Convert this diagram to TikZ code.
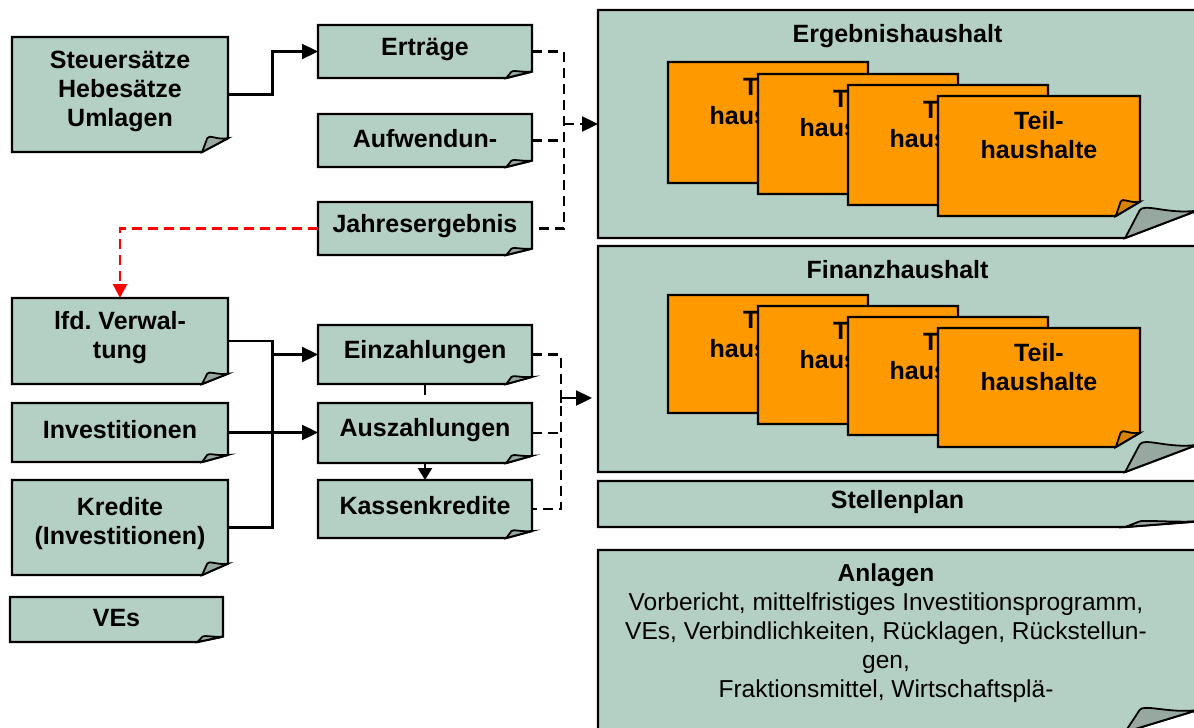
\documentclass[tikz,border=0pt]{standalone}
\usepackage{fontspec}
\setmainfont{Liberation Sans}
\usetikzlibrary{arrows.meta,calc}
\definecolor{boxgreen}{RGB}{180,207,196}
\definecolor{foldgreen}{RGB}{150,168,160}
\definecolor{boxorange}{RGB}{255,153,0}
\definecolor{foldorange}{RGB}{215,130,0}
\tikzset{
 boxline/.style={draw=black, line width=2.2pt, line join=miter},
 boxnode/.style={rectangle, draw=none, fill=none, inner sep=0pt, outer sep=0pt},
 lbl/.style={font=\fontsize{25}{29}\selectfont\bfseries, align=center, inner sep=0pt},
 conn/.style={line width=2.3pt, draw=black},
 tip/.style={-{Triangle[length=16pt,width=15pt]}},
 arr/.style={conn, tip},
 dashconn/.style={conn, dash pattern=on 10pt off 6pt},
 reddash/.style={line width=2.3pt, draw=red, dash pattern=on 10pt off 6pt, -{Triangle[length=14pt,width=14pt]}},
}
\newcommand\notebox[7]{%
 \pgfmathsetmacro\fw{0.12*(#4-#2)}%
 \pgfmathsetmacro\fh{0.12*(#5-#3)}%
 \draw[boxline, fill=#6] (#2,#3) -- (#4,#3) -- (#4,#5-\fh) -- (#4-\fw,#5) -- (#2,#5) -- cycle;
 \draw[boxline, line width=1.8pt, fill=#7] (#4-\fw,#5) -- (#4-0.8*\fw,#5-\fh) .. controls (#4-0.75*\fw,#5-1.3*\fh) and (#4-0.4*\fw,#5-0.85*\fh) .. (#4,#5-\fh) -- cycle;
 \node[boxnode, minimum width={#4-#2}, minimum height={#5-#3}] (#1) at ({(#2+#4)/2},{(#3+#5)/2}) {};
}
\frenchspacing
\begin{document}
\begin{tikzpicture}[x=1pt,y=-1pt]
\useasboundingbox (0,0) rectangle (1194,728);
\fill[white] (0,0) rectangle (1194,728);
\clip (0,0) rectangle (1194,728);

% left column
\notebox{steuer}{12}{37}{228}{152}{boxgreen}{foldgreen}
\node[lbl, yshift=3pt] (steuerT) at (steuer.center) {Steuersätze\\Hebesätze\\Umlagen};
\notebox{lfd}{12}{298}{228}{384}{boxgreen}{foldgreen}
\node[lbl, yshift=3pt] (lfdT) at (lfd.center) {lfd. Verwal-\\tung};
\notebox{invest}{12}{403}{228}{462}{boxgreen}{foldgreen}
\node[lbl, yshift=3pt] (investT) at (invest.center) {Investitionen};
\notebox{kredite}{12}{480}{228}{575}{boxgreen}{foldgreen}
\node[lbl, yshift=4pt] (krediteT) at (kredite.center) {Kredite\\(Investitionen)};
\notebox{ves}{10}{597}{223}{642}{boxgreen}{foldgreen}
\node[lbl, yshift=1pt] (vesT) at (ves.center) {VEs};

% middle column
\notebox{ertraege}{318}{25}{532}{78}{boxgreen}{foldgreen}
\node[lbl, yshift=2pt] (ertraegeT) at (ertraege.center) {Erträge};
\notebox{aufw}{318}{114}{532}{167}{boxgreen}{foldgreen}
\node[lbl, yshift=2pt] (aufwT) at (aufw.center) {Aufwendun-};
\notebox{jahres}{318}{202}{532}{255}{boxgreen}{foldgreen}
\node[lbl, yshift=2pt] (jahresT) at (jahres.center) {Jahresergebnis};
\notebox{einz}{318}{325}{532}{384}{boxgreen}{foldgreen}
\node[lbl, yshift=2pt] (einzT) at (einz.center) {Einzahlungen};
\notebox{kassen}{318}{480}{532}{538}{boxgreen}{foldgreen}
\node[lbl, yshift=3pt] (kassenT) at (kassen.center) {Kassenkredite};
\draw[conn, dash pattern=on 11pt off 8pt on 300pt off 0pt, -{Triangle[length=12pt,width=14pt]}] (einz.south) -- (kassen.north);
\notebox{ausz}{318}{403}{532}{463}{boxgreen}{foldgreen}
\node[lbl, yshift=3pt] (auszT) at (ausz.center) {Auszahlungen};

% right column
\notebox{ergebnis}{598}{10}{1197}{238}{boxgreen}{foldgreen}
\node[lbl, anchor=north] (ergebnisT) at (897.5,24) {Ergebnishaushalt};
\notebox{eo1}{668}{62}{868}{183}{boxorange}{foldorange}
\node[lbl, anchor=north] (eo1T) at ($(eo1.north)+(0,15)$) {Teil-\\haushalte};
\notebox{eo2}{758}{74}{958}{194}{boxorange}{foldorange}
\node[lbl, anchor=north] (eo2T) at ($(eo2.north)+(0,15)$) {Teil-\\haushalte};
\notebox{eo3}{848}{85}{1048}{205}{boxorange}{foldorange}
\node[lbl, anchor=north] (eo3T) at ($(eo3.north)+(0,15)$) {Teil-\\haushalte};
\notebox{eo4}{938}{96}{1140}{216}{boxorange}{foldorange}
\node[lbl, anchor=north] (eo4T) at ($(eo4.north)+(0,15)$) {Teil-\\haushalte};

\notebox{finanz}{598}{246}{1197}{472}{boxgreen}{foldgreen}
\node[lbl, anchor=north] (finanzT) at (897.5,260) {Finanzhaushalt};
\notebox{fo1}{668}{295}{868}{413}{boxorange}{foldorange}
\node[lbl, anchor=north] (fo1T) at ($(fo1.north)+(0,15)$) {Teil-\\haushalte};
\notebox{fo2}{758}{306}{958}{424}{boxorange}{foldorange}
\node[lbl, anchor=north] (fo2T) at ($(fo2.north)+(0,15)$) {Teil-\\haushalte};
\notebox{fo3}{848}{317}{1048}{435}{boxorange}{foldorange}
\node[lbl, anchor=north] (fo3T) at ($(fo3.north)+(0,15)$) {Teil-\\haushalte};
\notebox{fo4}{938}{328}{1140}{447}{boxorange}{foldorange}
\node[lbl, anchor=north] (fo4T) at ($(fo4.north)+(0,15)$) {Teil-\\haushalte};

\notebox{stellen}{598}{481}{1197}{527}{boxgreen}{foldgreen}
\node[lbl, yshift=2pt] (stellenT) at (897.5,504) {Stellenplan};

\notebox{anlagen}{598}{550}{1197}{732}{boxgreen}{foldgreen}
\node[anchor=north, align=center, inner sep=0pt, font=\fontsize{24.5}{29}\selectfont] (anlagenT) at (886,564)
 {\textbf{Anlagen}\\Vorbericht, mittelfristiges Investitionsprogramm,\\VEs, Verbindlichkeiten, Rücklagen, Rückstellun-\\gen,\\Fraktionsmittel, Wirtschaftsplä-};

% connectors
\coordinate (busL) at (272.5,0);
\coordinate (busE) at (564,0);
\coordinate (busF) at (561,0);
\coordinate (fa0) at (561,403);
\coordinate (fa) at (561,398);

\draw[arr] (steuer.east) -- (steuer.east -| busL) -- (busL |- ertraege.west) -- (ertraege.west);
\draw[conn] (kredite.east) -- (kredite.east -| busL) -- (busL |- einz.west);
\draw[arr] (lfd.east) -- (lfd.east -| busL) -- (busL |- einz.west) -- (einz.west);
\draw[arr] (invest.east) -- (invest.east -| ausz.west) ;

\draw[dashconn] (ertraege.east) -- (ertraege.east -| busE) -- (busE |- jahres.east) -- (jahres.east);
\draw[dashconn] (aufw.east) -- (aufw.east -| busE);
\draw[dashconn, tip] (busE |- ergebnis.west) -- (ergebnis.west);

\draw[dashconn] (einz.east) -- (einz.east -| busF) -- (busF |- kassen.east) -- (kassen.east);
\draw[dashconn] (ausz.east) -- (ausz.east -| busF);
\draw[arr, shorten >=6pt] (fa0) -- (fa) -- (fa -| finanz.west);

\draw[reddash] (jahres.west) -- (jahres.west -| lfd.north) -- (lfd.north);
\end{tikzpicture}
\end{document}
